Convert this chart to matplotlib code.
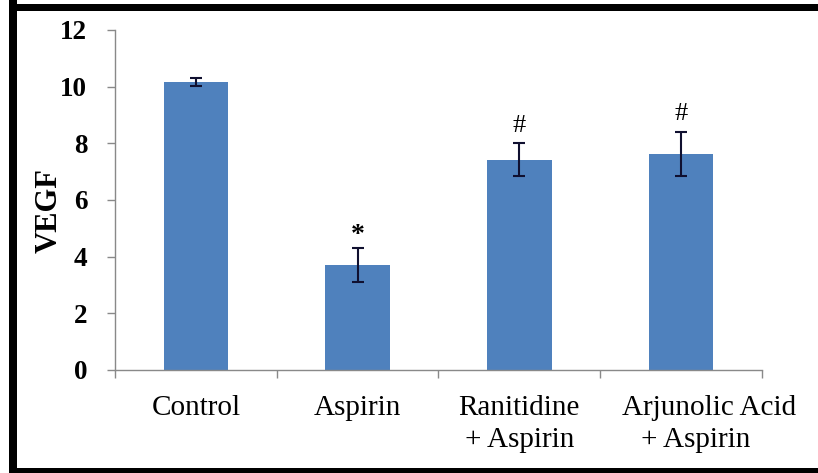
import matplotlib
matplotlib.use("Agg")
import matplotlib.pyplot as plt
from matplotlib.patches import Rectangle
import matplotlib.transforms as mtransforms
import numpy as np

# data
groups = ["Control", "Aspirin", "Ranitidine\n+ Aspirin", "Arjunolic Acid\n+ Aspirin"]
vegf = [10.15, 3.72, 7.42, 7.63]
sem = [0.14, 0.60, 0.58, 0.78]
marks = ["", "*", "#", "#"]

plt.rcParams['font.family'] = ['Liberation Serif', 'DejaVu Serif']

fig = plt.figure(figsize=(8.18, 4.73), dpi=100)
ax = fig.add_axes([0.1406, 0.2178, 0.7909, 0.7188])

x = np.arange(len(groups))
ax.bar(x, vegf, width=0.4, color='#4F81BD', zorder=2)
ax.errorbar(x, vegf, yerr=sem, fmt='none', ecolor='#101030', elinewidth=1.5,
            capsize=4, capthick=1.5, zorder=3)

for xi, v, e, m in zip(x, vegf, sem, marks):
    if m == "*":
        ax.text(xi, v + e + 0.42, m, ha='center', va='center', fontsize=20, fontweight='bold')
    elif m:
        ax.text(xi, v + e + 0.62, m, ha='center', va='center', fontsize=19)

ax.set_xlim(-0.5, len(groups) - 0.5)
ax.set_ylim(0, 12)
ax.set_yticks(range(0, 13, 2))
ax.set_yticklabels([str(t) for t in range(0, 13, 2)], fontsize=19.5, fontweight='bold')

# boundary ticks between categories
ax.set_xticks(np.arange(-0.5, len(groups), 1.0))
ax.set_xticklabels([])
ax.tick_params(axis='x', length=6, color='#898989', width=1)
ax.tick_params(axis='y', length=6, color='#898989', width=1, pad=14)

# category labels, one text per line (last label sits a bit right, as in the source)
trans = mtransforms.blended_transform_factory(ax.transData, ax.transAxes)
line_shift = [[0, 0], [0, 0], [0, 0], [0.17, 0.09]]
for xi, name, sh in zip(x, groups, line_shift):
    for k, line in enumerate(name.split("\n")):
        ax.text(xi + sh[k], -0.132 - 0.094 * k, line, transform=trans,
                ha='center', va='baseline', fontsize=21)

ax.set_ylabel("VEGF", fontsize=22, fontweight='bold')
ax.yaxis.set_label_coords(-0.08, 0.47)

for s in ['top', 'right']:
    ax.spines[s].set_visible(False)
for s in ['left', 'bottom']:
    ax.spines[s].set_color('#898989')
    ax.spines[s].set_linewidth(1)

# thick black frame around the picture
W, H = 818, 473
fig.patches.append(Rectangle((9 / W, 0), 8 / W, 1, transform=fig.transFigure, facecolor='black', zorder=5))
fig.patches.append(Rectangle((9 / W, 1 - 11 / H), 1, 7 / H, transform=fig.transFigure, facecolor='black', zorder=5))
fig.patches.append(Rectangle((9 / W, 0), 1, 5 / H, transform=fig.transFigure, facecolor='black', zorder=5))

fig.savefig("out.png", dpi=100)
